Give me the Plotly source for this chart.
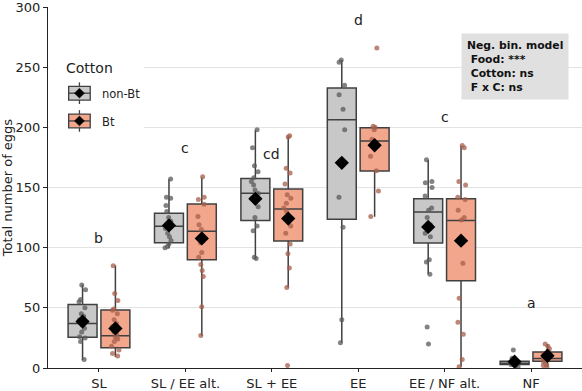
import plotly.graph_objects as go

categories = ["SL", "SL / EE alt.", "SL + EE", "EE", "EE / NF alt.", "NF"]
letters = ["b", "c", "cd", "d", "c", "a"]
letter_y = [108, 183, 178, 289, 209, 54]

# non-Bt box statistics
nonbt_q1 = [25.5, 104.0, 122.6, 123.7, 103.9, 3.0]
nonbt_median = [37.0, 117.7, 145.2, 206.4, 129.7, 4.0]
nonbt_q3 = [52.8, 128.7, 157.4, 232.7, 140.6, 5.7]
nonbt_low = [6.5, 99.6, 90.7, 21.0, 77.9, 1.0]
nonbt_high = [69.1, 156.9, 197.6, 255.9, 172.9, 8.0]
nonbt_mean = [38.6, 118.5, 140.6, 170.5, 117.2, 5.2]

# Bt box statistics
bt_q1 = [16.9, 90.0, 105.5, 163.7, 72.6, 5.7]
bt_median = [26.9, 113.6, 132.1, 188.7, 122.6, 7.9]
bt_q3 = [48.1, 136.2, 148.7, 199.6, 140.6, 13.3]
bt_low = [9.2, 26.9, 66.6, 125.6, 1.0, 1.0]
bt_high = [85.4, 158.5, 192.8, 201.0, 184.6, 20.0]
bt_mean = [32.9, 107.7, 124.2, 185.1, 105.8, 10.2]

# individual observations
nonbt_points = [
    [69, 65, 57, 55, 50, 45, 43, 40, 39, 38, 36, 33, 30, 26, 25, 22, 7],
    [157, 142, 141, 135, 130, 125, 122, 119, 118, 116, 112, 109, 106, 103, 101, 100],
    [198, 183, 168, 163, 158, 155, 152, 148, 145, 141, 134, 125, 118, 114, 92, 91],
    [256, 254, 235, 227, 215, 198, 142, 117, 40, 21],
    [173, 155, 154, 150, 143, 133, 131, 125, 119, 117, 112, 109, 90, 88, 78, 34, 20],
    [15, 8, 6, 5, 4, 4, 3, 3, 2, 1],
]
bt_points = [
    [85, 62, 56, 49, 48, 45, 40, 37, 34, 30, 28, 26, 24, 22, 18, 15, 12, 10],
    [159, 142, 140, 136, 126, 119, 115, 108, 104, 96, 92, 86, 81, 76, 51, 27],
    [193, 192, 166, 162, 153, 144, 141, 137, 133, 130, 125, 118, 112, 103, 95, 83, 67, 2],
    [266, 201, 200, 198, 190, 185, 176, 164, 147, 126],
    [185, 183, 155, 152, 142, 140, 131, 125, 123, 106, 87, 58, 38, 28, 7, 1],
    [20, 18, 16, 14, 12, 11, 10, 9, 8, 6, 5, 3, 2, 1],
]

OFF = 0.19
BW = 0.335
idx = list(range(len(categories)))
pos_n = [i - OFF for i in idx]
pos_b = [i + OFF for i in idx]

GRAY = "#c8c8c8"
SALMON = "#f2a68c"
EDGE = "#404040"
FONT = "DejaVu Sans"

fig = go.Figure()

for pos, q1, med, q3, lo, hi, fill in [
    (pos_n, nonbt_q1, nonbt_median, nonbt_q3, nonbt_low, nonbt_high, GRAY),
    (pos_b, bt_q1, bt_median, bt_q3, bt_low, bt_high, SALMON),
]:
    fig.add_trace(go.Box(
        x=pos, q1=q1, median=med, q3=q3, lowerfence=lo, upperfence=hi,
        width=BW, fillcolor=fill, line=dict(color=EDGE, width=1.5),
        whiskerwidth=0, boxpoints=False, showlegend=False, hoverinfo="skip",
    ))

for pos, pts, col in [
    (pos_n, nonbt_points, "rgba(90,90,90,0.75)"),
    (pos_b, bt_points, "rgba(165,95,75,0.75)"),
]:
    xs, ys = [], []
    for p, vals in zip(pos, pts):
        xs += [p] * len(vals)
        ys += vals
    fig.add_trace(go.Box(
        x=xs, y=ys, boxpoints="all", jitter=0.32, pointpos=0, width=BW,
        fillcolor="rgba(0,0,0,0)", line=dict(color="rgba(0,0,0,0)", width=0),
        marker=dict(color=col, size=5), whiskerwidth=0,
        showlegend=False, hoverinfo="skip",
    ))

fig.add_trace(go.Scatter(
    x=pos_n + pos_b, y=nonbt_mean + bt_mean, mode="markers",
    marker=dict(symbol="diamond", size=11, color="black"),
    showlegend=False, hoverinfo="skip",
))

annotations = []
for i, (lt, ly) in enumerate(zip(letters, letter_y)):
    annotations.append(dict(x=i, y=ly, text=lt, showarrow=False,
                            font=dict(size=14, color="#222", family=FONT)))

# pixel -> paper helpers for the hand-made legend
L, R, T, B = 47, 582, 5.2, 373
def px(v):
    return (v - L) / (R - L)
def py(v):
    return (B - v) / (B - T)

shapes = [dict(type="rect", xref="paper", yref="paper", x0=px(48), x1=px(143),
               y0=py(137), y1=py(52), fillcolor="white", line=dict(width=0), layer="above")]
for cy, fill in [(93, GRAY), (121.3, SALMON)]:
    cx = 78.5
    shapes.append(dict(type="line", xref="paper", yref="paper", x0=px(cx), x1=px(cx),
                       y0=py(cy + 11), y1=py(cy - 11), line=dict(color=EDGE, width=1.3), layer="above"))
    shapes.append(dict(type="rect", xref="paper", yref="paper", x0=px(67.7), x1=px(89.3),
                       y0=py(cy + 7), y1=py(cy - 7), fillcolor=fill,
                       line=dict(color=EDGE, width=1.3), layer="above"))
    shapes.append(dict(type="line", xref="paper", yref="paper", x0=px(67.7), x1=px(89.3),
                       y0=py(cy), y1=py(cy), line=dict(color=EDGE, width=1.3), layer="above"))
    d = 5
    path = (f"M {px(cx)},{py(cy - d)} L {px(cx + d)},{py(cy)} "
            f"L {px(cx)},{py(cy + d)} L {px(cx - d)},{py(cy)} Z")
    shapes.append(dict(type="path", xref="paper", yref="paper", path=path,
                       fillcolor="black", line=dict(color="black", width=0.5), layer="above"))

annotations += [
    dict(xref="paper", yref="paper", x=px(63), y=py(67), xanchor="left", yanchor="middle",
         text="Cotton", showarrow=False, font=dict(size=14, color="#222", family=FONT)),
    dict(xref="paper", yref="paper", x=px(99), y=py(94), xanchor="left", yanchor="middle",
         text="non-Bt", showarrow=False, font=dict(size=11.5, color="#222", family=FONT)),
    dict(xref="paper", yref="paper", x=px(99), y=py(122), xanchor="left", yanchor="middle",
         text="Bt", showarrow=False, font=dict(size=11.5, color="#222", family=FONT)),
    dict(xref="paper", yref="paper", x=px(461), y=py(32), xanchor="left", yanchor="top",
         text="<b>Neg. bin. model</b><br><b> Food: ***</b><br><b> Cotton: ns</b><br><b> F x C: ns</b>",
         align="left", showarrow=False, bgcolor="#e0e0e0", borderpad=5,
         font=dict(size=10.8, color="#111", family=FONT)),
]

fig.update_layout(
    width=582, height=391,
    margin=dict(l=47, r=0, t=5, b=18),
    plot_bgcolor="white", paper_bgcolor="white",
    font=dict(family=FONT, size=13, color="#222"),
    annotations=annotations, shapes=shapes,
    xaxis=dict(range=[-0.59, 5.59], tickmode="array", tickvals=idx, ticktext=categories,
               showline=True, linecolor="#222", linewidth=1.3, ticks="outside", ticklen=3,
               tickcolor="#222", showgrid=False, zeroline=False,
               tickfont=dict(size=13)),
    yaxis=dict(range=[0, 300], tickvals=[0, 50, 100, 150, 200, 250, 300],
               showline=True, linecolor="#222", linewidth=1.3, ticks="outside", ticklen=4,
               tickcolor="#222", showgrid=True, gridcolor="#e3e3e3", gridwidth=1,
               zeroline=False, tickfont=dict(size=13), ticklabeloverflow="allow",
               title=dict(text="Total number of eggs", font=dict(size=13), standoff=6)),
)

fig.write_html("out.html")
